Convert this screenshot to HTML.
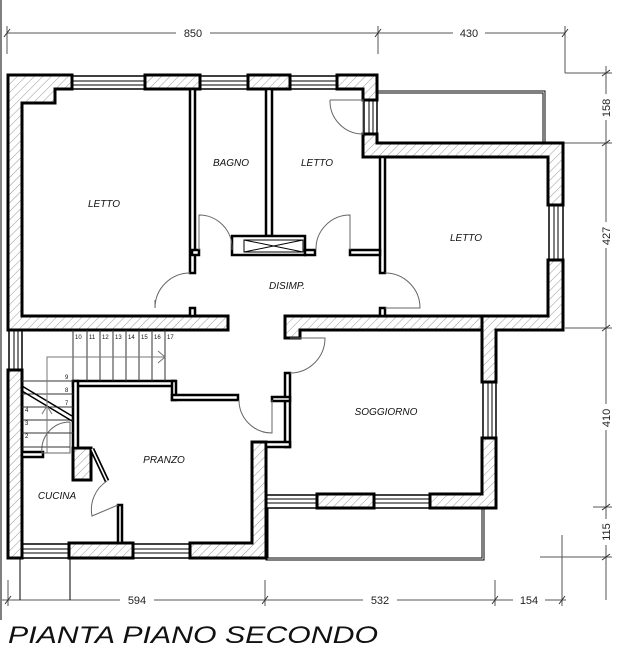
<!DOCTYPE html>
<html><head><meta charset="utf-8"><style>
html,body{margin:0;padding:0;background:#fff;}
svg{display:block;font-family:"Liberation Sans",sans-serif;}
.l{font-size:10px;font-style:italic;fill:#111;}
.d{font-size:11px;fill:#222;}
</style></head><body>
<svg width="618" height="651" viewBox="0 0 618 651" xmlns="http://www.w3.org/2000/svg">
<defs>
<pattern id="h" width="6" height="6" patternUnits="userSpaceOnUse" patternTransform="rotate(45)">
<rect width="6" height="6" fill="#fff"/><line x1="0" y1="0" x2="0" y2="6" stroke="#999" stroke-width="1"/>
</pattern>
</defs>
<line x1="1" y1="0" x2="1" y2="620" stroke="#000" stroke-width="1"/>
<!-- dimensions top -->
<g stroke="#555" stroke-width="1" fill="none">
<line x1="7" y1="33" x2="565" y2="33"/>
<line x1="7" y1="26" x2="7" y2="54"/><line x1="378" y1="26" x2="378" y2="54"/><line x1="565" y1="26" x2="565" y2="73"/>
<line x1="565" y1="73" x2="612" y2="73"/>
<line x1="606" y1="66" x2="606" y2="600"/>
<line x1="545" y1="143" x2="612" y2="143"/>
<line x1="565" y1="328" x2="612" y2="328"/>
<line x1="593" y1="507" x2="612" y2="507"/>
<line x1="540" y1="557" x2="612" y2="557"/>
<line x1="562" y1="535" x2="562" y2="606"/>
<line x1="2" y1="600" x2="566" y2="600"/>
<line x1="8" y1="580" x2="8" y2="606"/><line x1="265" y1="580" x2="265" y2="606"/><line x1="495" y1="580" x2="495" y2="606"/>
<g stroke="#333"><path d="M4 37L10 29M375 37L381 29M562 37L568 29M602 76L610 70M602 146L610 140M602 331L610 325M602 510L610 504M602 560L610 554M5 604L11 596M262 604L268 596M492 604L498 596M559 604L565 596"/></g>
</g>
<g class="d">
<rect x="176" y="26" width="34" height="14" fill="#fff"/><text x="193" y="37" text-anchor="middle">850</text>
<rect x="453" y="26" width="32" height="14" fill="#fff"/><text x="469" y="37" text-anchor="middle">430</text>
<rect x="120" y="593" width="34" height="14" fill="#fff"/><text x="137" y="604" text-anchor="middle">594</text>
<rect x="363" y="593" width="34" height="14" fill="#fff"/><text x="380" y="604" text-anchor="middle">532</text>
<rect x="513" y="593" width="32" height="14" fill="#fff"/><text x="529" y="604" text-anchor="middle">154</text>
<g fill="#222">
<rect x="599" y="94" width="14" height="26" fill="#fff"/><text transform="translate(610,108) rotate(-90)" text-anchor="middle">158</text>
<rect x="599" y="222" width="14" height="26" fill="#fff"/><text transform="translate(610,236) rotate(-90)" text-anchor="middle">427</text>
<rect x="599" y="404" width="14" height="26" fill="#fff"/><text transform="translate(610,418) rotate(-90)" text-anchor="middle">410</text>
<rect x="599" y="519" width="14" height="26" fill="#fff"/><text transform="translate(610,532) rotate(-90)" text-anchor="middle">115</text>
</g>
</g>
<!-- balconies -->
<g fill="none" stroke="#000" stroke-width="1">
<path d="M377 91H545V143"/><path d="M377 93H543V143"/>
<path d="M266 508V560H484V508"/><path d="M268 508V558H482V508"/>
<path d="M20 558V600M70 558V600"/>
</g>
<!-- windows -->
<g fill="#fff" stroke="#000" stroke-width="1.5">
<rect x="72" y="76" width="73" height="13"/><rect x="200" y="76" width="48" height="13"/><rect x="290" y="76" width="47" height="13"/>
<rect x="364" y="100" width="13" height="34"/><rect x="549" y="205" width="14" height="55"/>
<rect x="9" y="330" width="13" height="40"/><rect x="483" y="382" width="13" height="56"/>
<rect x="266" y="495" width="51" height="13"/><rect x="374" y="495" width="56" height="13"/>
<rect x="22" y="544" width="47" height="14"/><rect x="133" y="544" width="57" height="14"/>
</g>
<g stroke="#000" stroke-width="1">
<path d="M72 81H145M72 85H145M200 81H248M200 85H248M290 81H337M290 85H337"/>
<path d="M369 100V134M373 100V134M554 205V260M558 205V260M14 330V370M18 330V370M488 382V438M492 382V438"/>
<path d="M266 499H317M266 503H317M374 499H430M374 503H430M22 549H69M22 553H69M133 549H190M133 553H190"/>
</g>
<!-- hatched walls -->
<g fill="url(#h)" stroke="#000" stroke-width="3" stroke-linejoin="miter">
<path d="M8 75H72V89H55V103H22V316H228V330H8Z"/>
<rect x="145" y="75" width="55" height="14"/>
<rect x="248" y="75" width="42" height="14"/>
<path d="M337 75H377V100H363V89H337Z"/>
<path d="M363 134H377V143H563V205H548V157H363Z"/>
<path d="M548 260H563V330H496V382H482V316H548Z"/>
<path d="M285 316H482V330H300V338H285Z"/>
<path d="M482 438H496V508H430V494H482Z"/>
<rect x="317" y="494" width="57" height="14"/>
<path d="M252 442H266V558H190V543H252Z"/>
<path d="M8 370H22V543H22V558H8Z"/>
<rect x="69" y="543" width="64" height="15"/>
<rect x="73" y="448" width="18" height="32"/>
</g>
<!-- thin walls -->
<g fill="#fff" stroke="#000" stroke-width="2.5">
<rect x="190" y="89" width="5" height="184"/><rect x="190" y="308" width="5" height="8"/>
<rect x="192" y="250" width="7" height="5"/>
<rect x="266" y="89" width="6" height="147"/>
<rect x="232" y="236" width="73" height="19"/>
<rect x="380" y="157" width="5" height="116"/><rect x="380" y="308" width="5" height="8"/>
<rect x="350" y="250" width="30" height="5"/><rect x="305" y="250" width="10" height="5"/>
<rect x="285" y="373" width="5" height="74"/><rect x="266" y="442" width="24" height="5"/>
<rect x="272" y="397" width="18" height="4"/>
<rect x="73" y="381" width="102" height="5"/><rect x="172" y="381" width="4" height="19"/>
<rect x="172" y="395" width="66" height="5"/><rect x="73" y="381" width="5" height="67"/>
<rect x="118" y="505" width="4" height="38"/>
<rect x="22" y="452" width="21" height="5"/>
</g>
<g stroke="#000" stroke-width="1" fill="none">
<rect x="244" y="240" width="59" height="12"/><path d="M244 240L303 252M244 252L303 240"/>
</g>
<line x1="92" y1="449" x2="107" y2="481" stroke="#000" stroke-width="5"/>
<line x1="92" y1="449" x2="107" y2="481" stroke="#fff" stroke-width="1.5"/>
<!-- doors -->
<g stroke="#666" stroke-width="1" fill="none">
<path d="M190 273A35 35 0 0 0 155 308"/><path d="M155 300V308"/>
<path d="M199 250V215A33 33 0 0 1 232 250"/>
<path d="M350 250V215A34 34 0 0 0 316 250"/>
<path d="M385 273A35 35 0 0 1 420 308H385"/>
<path d="M330 100H363V134A33 33 0 0 1 330 100"/>
<path d="M290 338H325A35 35 0 0 1 290 373"/>
<path d="M272 400V433A33 33 0 0 1 239 400"/>
<path d="M70 422V453H42A28 28 0 0 1 70 422"/>
<path d="M118 505L92 516A34 34 0 0 1 107 481"/>
</g>
<!-- stairs -->
<g stroke="#333" stroke-width="1" fill="none">
<path d="M73 330V381M87 330V381M100 330V381M113 330V381M126 330V381M139 330V381M152 330V381M165 330V381"/>
<path d="M22 381H73M22 394H73M22 407H73M22 420H73M22 433H73M22 447H70"/>
<path d="M22 386L72 416M22 391L72 421" stroke="#000" stroke-width="1.5"/>
<path d="M47 453V357H165M158 351L165 357L158 363M42 414L47 406L52 414" stroke="#777"/>
</g>
<g font-size="6" fill="#111">
<text x="75" y="339">10</text><text x="89" y="339">11</text><text x="102" y="339">12</text><text x="115" y="339">13</text><text x="128" y="339">14</text><text x="141" y="339">15</text><text x="154" y="339">16</text><text x="167" y="339">17</text>
<text x="65" y="379">9</text><text x="65" y="392">8</text><text x="65" y="405">7</text>
<text x="25" y="412">4</text><text x="25" y="425">3</text><text x="25" y="438">2</text>
</g>
<!-- labels -->
<g class="l" text-anchor="middle">
<text x="104" y="207">LETTO</text><text x="231" y="166">BAGNO</text><text x="317" y="166">LETTO</text>
<text x="466" y="241">LETTO</text><text x="287" y="289">DISIMP.</text><text x="386" y="415">SOGGIORNO</text>
<text x="164" y="463">PRANZO</text><text x="57" y="499">CUCINA</text>
</g>
<text x="8" y="643" font-size="24" font-style="italic" fill="#111" textLength="370" lengthAdjust="spacingAndGlyphs">PIANTA PIANO SECONDO</text>
</svg>
</body></html>
